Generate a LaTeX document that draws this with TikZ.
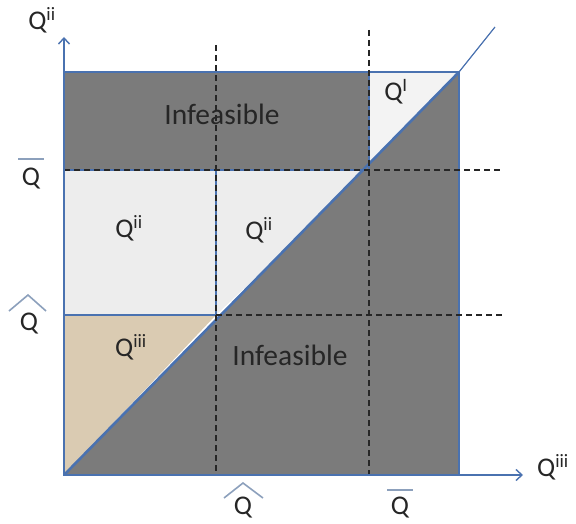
\documentclass[tikz,border=0pt]{standalone}
\usepackage{fontspec}
\setmainfont{Carlito}
\usetikzlibrary{arrows.meta}
\definecolor{axblue}{HTML}{4A72B0}
\definecolor{darkfill}{HTML}{7B7B7B}
\definecolor{lightfill}{HTML}{EDEDED}
\definecolor{qifill}{HTML}{F3F3F3}
\definecolor{tanfill}{HTML}{DACBB2}
\definecolor{labtext}{HTML}{262626}
\definecolor{hatblue}{HTML}{8CA0BC}
\tikzset{
  edge/.style={draw=axblue, line width=2.6pt},
  axis/.style={draw=axblue, line width=1.4pt, -{Straight Barb[length=6pt,width=11pt,line width=1.4pt]}},
  guide/.style={draw=black!85, dashed, dash pattern=on 6pt off 4pt, line width=1.1pt},
  region/.style={font=\fontsize{29.5}{32}\selectfont, text=labtext},
  qlab/.style={font=\fontsize{27}{29}\selectfont, text=labtext, inner sep=0pt},
  hatline/.style={draw=hatblue, line width=1.6pt}
}
\begin{document}
\begin{tikzpicture}[x=1pt,y=-1pt]
\useasboundingbox (0,0) rectangle (576,524);
% key points
\coordinate (O) at (64,475);
\coordinate (BR) at (459,475);
\coordinate (TR) at (459,72);
\coordinate (TL) at (64,72);
\coordinate (Ybar) at (64,170);
\coordinate (Yhat) at (64,315);
\coordinate (Xhat) at (216,475);
\coordinate (Xbar) at (369,475);
\coordinate (Phat) at (216,315);
\coordinate (Pbar) at (369,170);
\coordinate (Tbar) at (369,72);
\coordinate (Mhat) at (216,170);
\coordinate (Dend) at (495,27);
% regions
\fill[darkfill] (TL) rectangle (Pbar);
\fill[qifill] (Tbar) -- (TR) -- (Pbar) -- cycle;
\fill[lightfill] (Ybar) rectangle (Phat);
\fill[lightfill] (Mhat) -- (Pbar) -- (Phat) -- cycle;
\fill[tanfill] (Yhat) -- (Phat) -- (O) -- cycle;
\fill[darkfill] (O) -- (TR) -- (BR) -- cycle;
% region borders
\draw[edge] (TL) rectangle (BR);
\draw[edge] (Ybar) -- (Pbar);
\draw[edge] (Yhat) -- (Phat);
\draw[edge] (Mhat) -- (Phat);
\draw[edge] (Tbar) -- (Pbar);
\draw[edge] (O) -- (TR);
\draw[draw=axblue, line width=1.2pt] (TR) -- (Dend);
% dashed guides
\draw[guide] (216,45) -- (Xhat);
\draw[guide] (369,30) -- (Xbar);
\draw[guide] (Ybar) -- (502,170);
\draw[guide] (Phat) -- (502,315);
% axes
\draw[axis] (O) -- (64,37);
\draw[axis] (O) -- (523,475);
% labels
\node[qlab] (ylab) at (42,20) {Q\textsuperscript{ii}};
\node[qlab] (xlab) at (553,467) {Q\textsuperscript{iii}};
\node[qlab] (lbar) at (31,179) {Q};
\draw[hatline] (18,159) -- (44,159);
\node[qlab] (lhat) at (29,324) {Q};
\draw[hatline] (9,311) -- (28,295) -- (46,311);
\node[qlab] (bhat) at (243,508) {Q};
\draw[hatline] (224,498) -- (243,483) -- (263,498);
\node[qlab] (bbar) at (400,508) {Q};
\draw[hatline] (387,490) -- (413,490);
\node[region] (inf1) at (222,114) {Infeasible};
\node[region] (inf2) at (290,355) {Infeasible};
\node[qlab] (qi) at (396,92) {Q\textsuperscript{I}};
\node[qlab] (qii1) at (129,228) {Q\textsuperscript{ii}};
\node[qlab] (qii2) at (259,230) {Q\textsuperscript{ii}};
\node[qlab] (qiii) at (131,347) {Q\textsuperscript{iii}};
\end{tikzpicture}
\end{document}
